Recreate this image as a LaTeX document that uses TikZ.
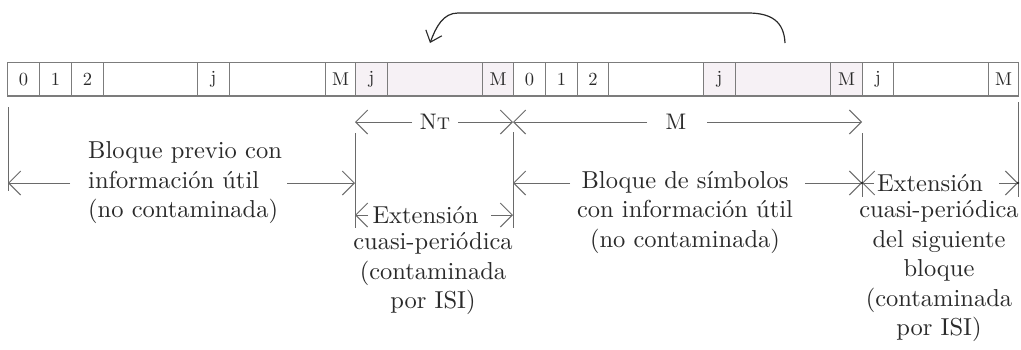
\documentclass[tikz,border=0pt]{standalone}
\usepackage{fontspec}
\setmainfont{lmroman10-regular.otf}[
  BoldFont=lmroman10-bold.otf,
  ItalicFont=lmroman10-italic.otf,
  SmallCapsFont=lmromancaps10-regular.otf]
\usetikzlibrary{arrows.meta}
\definecolor{cellgray}{HTML}{7C7C7C}
\definecolor{shade}{HTML}{F6F1F5}
\definecolor{linegray}{HTML}{6A6A6A}
\definecolor{textgray}{HTML}{2A2A2A}
\begin{document}
\begin{tikzpicture}[x=1pt,y=-1pt,
  cell/.style={draw=cellgray, line width=1.1pt, minimum height=33.5pt, inner sep=0pt,
    anchor=west, text=textgray, font=\fontsize{18.5}{20}\selectfont},
  dim/.style={draw=linegray, line width=1pt},
  tip/.style={dim, -{Straight Barb[length=12pt,width=24pt,line width=1pt]}},
  lbl/.style={text=textgray, inner sep=0pt, font=\fontsize{24.5}{29.5}\selectfont},
  dimlbl/.style={text=textgray, inner sep=0pt, font=\fontsize{22.5}{24}\selectfont},
  curvearrow/.style={draw=textgray, line width=1.2pt,
    -{Straight Barb[length=10pt,width=17pt,line width=1.1pt]}}
]
\fill[white] (0,0) rectangle (1021,349);
\useasboundingbox (0,0) rectangle (1021,349);

% strip of cells
\foreach \a/\b/\t/\s [count=\i] in {
  7/39/0/white, 39/71/1/white, 71/103/2/white, 103/197//white,
  197/229/j/white, 229/325//white, 325/355/M/white,
  355/387/j/shade, 387/482//shade, 482/513/M/shade,
  513/545/0/white, 545/577/1/white, 577/608/2/white, 608/703//white,
  703/735/j/shade, 735/830//shade, 830/862/M/shade,
  862/893/j/white, 893/988//white, 988/1018/M/white}
  \node[cell, fill=\s, minimum width=\b pt-\a pt] (c\i) at (\a,79.25) {\t};

% dimension coordinates
\coordinate (v0t) at (8,107);    \coordinate (v0b) at (8,191);
\coordinate (v1t) at (355,133);  \coordinate (v1b) at (355,228);
\coordinate (v2t) at (513,132);  \coordinate (v2b) at (513,228);
\coordinate (v3t) at (862,133);  \coordinate (v3b) at (862,197);
\coordinate (v4t) at (1018,102); \coordinate (v4b) at (1018,197);

\draw[dim] (v0t) -- (v0b);
\draw[dim] (v1t) -- (v1b);
\draw[dim] (v2t) -- (v2b);
\draw[dim] (v3t) -- (v3b);
\draw[dim] (v4t) -- (v4b);

% NT and M
\node[dimlbl] (nt) at (435,122) {N\textsc{t}};
\node[dimlbl] (mm) at (676,122) {M};
\coordinate (nt1) at (355,122); \coordinate (nt2) at (513,122);
\coordinate (m2) at (862,122);
\draw[tip] (412,122) -- (nt1);
\draw[tip] (458,122) -- (nt2);
\draw[tip] (647,122) -- (nt2);
\draw[tip] (707,122) -- (m2);

% Bloque previo
\node[lbl, anchor=west, align=left] (bp) at (88,183)
  {Bloque previo con\\información útil\\(no contaminada)};
\coordinate (bpL) at (8,183); \coordinate (bpR) at (355,183);
\draw[tip] (70,183) -- (bpL);
\draw[tip] (287,183) -- (bpR);

% Extension 1
\node[lbl] (e1) at (425.5,215) {Extensión};
\node[lbl, align=center] (e1b) at (433,274)
  {cuasi-periódica\\(contaminada\\por ISI)};
\coordinate (e1L) at (355,215); \coordinate (e1R) at (513,215);
\draw[tip] (368,215) -- (e1L);
\draw[tip] (491,215) -- (e1R);

% Bloque de simbolos
\node[lbl, align=center] (bs) at (685,212.5)
  {Bloque de símbolos\\con información útil\\(no contaminada)};
\coordinate (bsL) at (513,183); \coordinate (bsR) at (862,183);
\draw[tip] (570,183) -- (bsL);
\draw[tip] (805,183) -- (bsR);

% Extension 2
\node[lbl] (e2) at (930,183) {Extensión};
\node[lbl, align=center] (e2b) at (939,271.5)
  {cuasi-periódica\\del siguiente\\bloque\\(contaminada\\por ISI)};
\coordinate (e2R) at (1018,183);
\draw[tip] (874,183) -- (bsR);
\draw[tip] (999,183) -- (e2R);
\fill[textgray] (bsR) circle (1.3pt);
\fill[textgray] (e2R) circle (1.3pt);

% curved arrow
\coordinate (ca1) at (785,43); \coordinate (ca2) at (430,43);
\draw[curvearrow] (ca1) .. controls (784,22) and (772,13) .. (748,13)
  -- (458,13) .. controls (443,13) and (436,27) .. (ca2);
\end{tikzpicture}
\end{document}
